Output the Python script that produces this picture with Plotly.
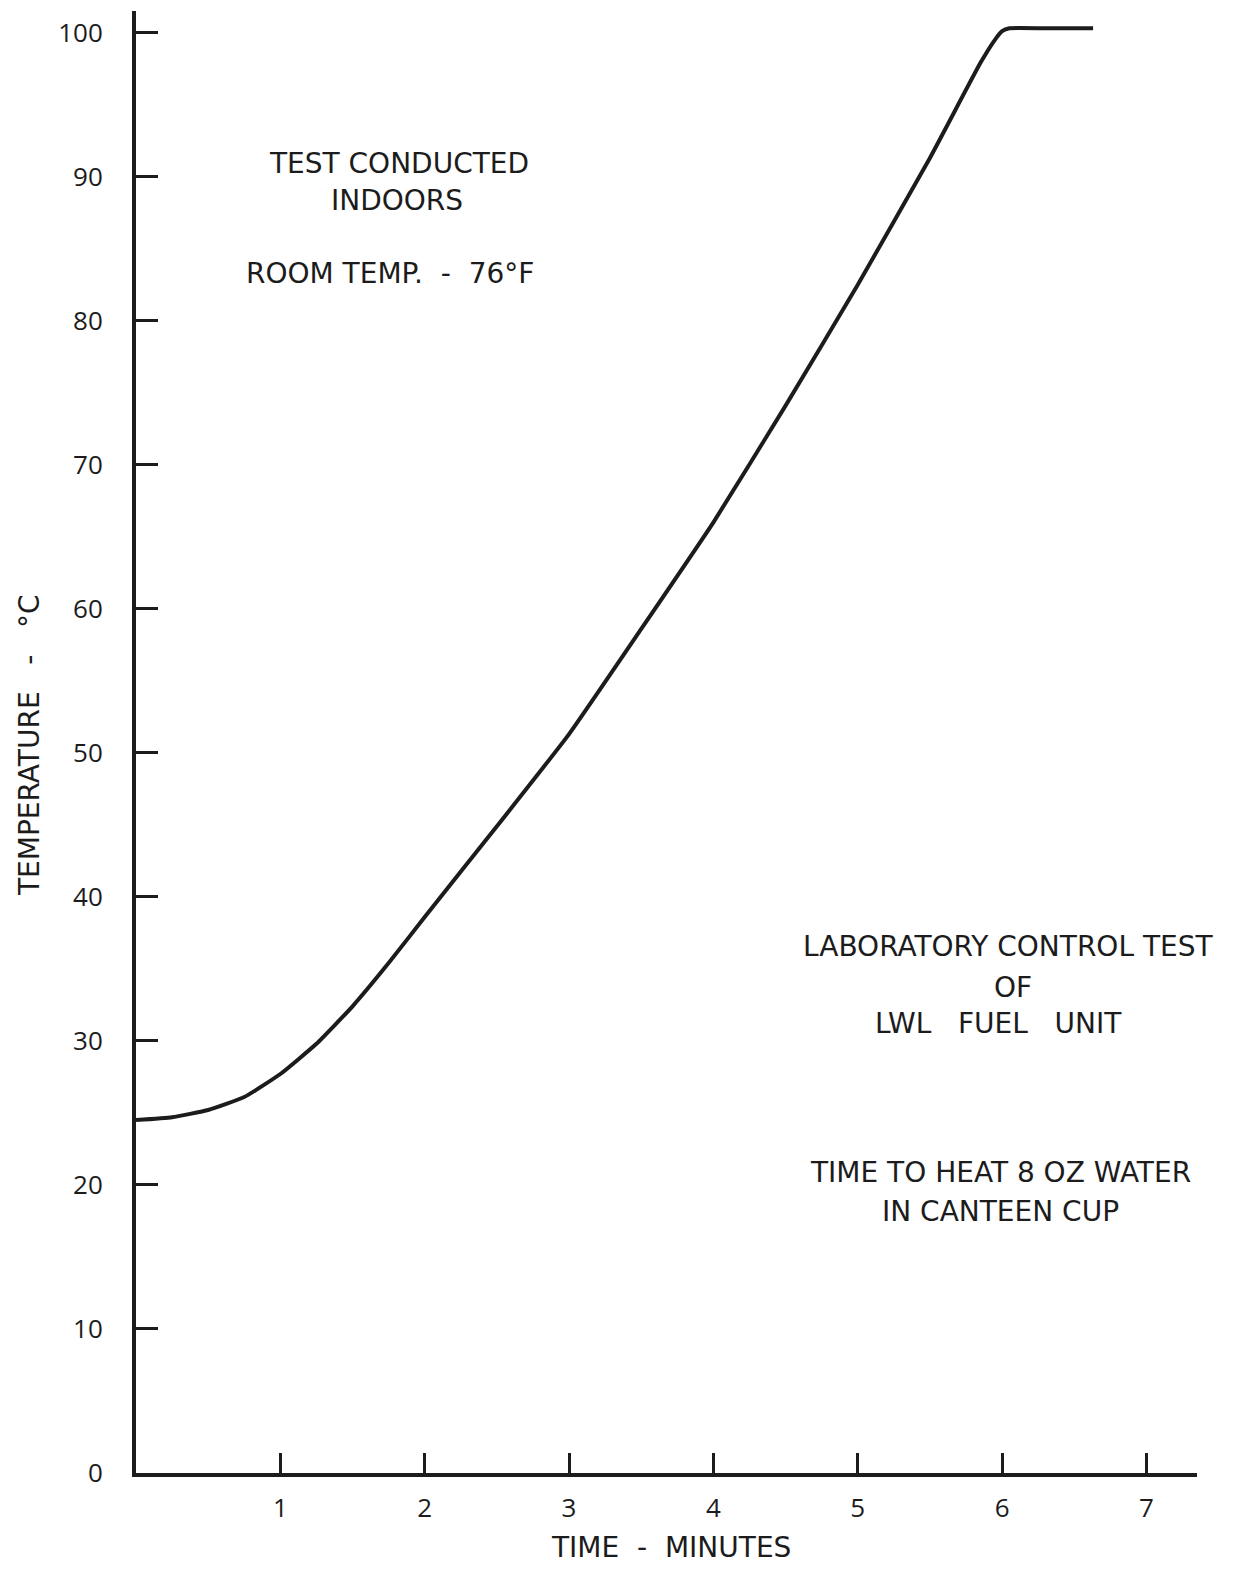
import plotly.graph_objects as go

time_min = [0, 0.25, 0.5, 0.75, 1.0, 1.25, 1.5, 1.75, 2.0, 2.5, 3.0, 3.5, 4.0, 4.5, 5.0, 5.5, 5.85, 5.95, 6.0, 6.05, 6.3, 6.63]
temp_c = [24.5, 24.7, 25.2, 26.1, 27.7, 29.8, 32.4, 35.4, 38.6, 44.9, 51.3, 58.6, 66.0, 74.1, 82.5, 91.3, 97.9, 99.5, 100.1, 100.3, 100.3, 100.3]

x_ticks = [1, 2, 3, 4, 5, 6, 7]
y_ticks = [0, 10, 20, 30, 40, 50, 60, 70, 80, 90, 100]

W, H = 1237, 1569
L, T, PW, PH = 136, 11, 1061, 1462
NUM_FONT = "Open Sans"
TXT_FONT = "DejaVu Sans"
INK = "#1c1c1c"

def px(x):
    return (x - L) / PW

def py(y):
    return (T + PH - y) / PH

fig = go.Figure()
fig.add_trace(go.Scatter(
    x=time_min, y=temp_c, mode="lines",
    line=dict(color=INK, width=4, shape="spline", smoothing=0.4),
    showlegend=False, hoverinfo="skip",
))

notes = [
    ("TEST CONDUCTED", 399, 163),
    ("INDOORS", 397, 200),
    ("ROOM TEMP.  -  76°F", 390, 273),
    ("LABORATORY CONTROL TEST", 1008, 946),
    ("OF", 1013, 987),
    ("LWL   FUEL   UNIT", 998, 1023),
    ("TIME TO HEAT 8 OZ WATER", 1000, 1172),
    ("IN CANTEEN CUP", 1000, 1211),
    ("TIME  -  MINUTES", 671, 1547),
]
for txt, x, y in notes:
    fig.add_annotation(text=txt, x=px(x), y=py(y), xref="paper", yref="paper",
                       showarrow=False, xanchor="center", yanchor="middle",
                       font=dict(family=TXT_FONT, size=28, color=INK))

fig.add_annotation(text="TEMPERATURE   -   °C", x=px(30), y=py(745), xref="paper", yref="paper",
                   showarrow=False, xanchor="center", yanchor="middle", textangle=-90,
                   font=dict(family=TXT_FONT, size=28, color=INK))

fig.update_layout(
    width=W, height=H,
    margin=dict(l=L, r=W - L - PW, t=T, b=H - T - PH),
    paper_bgcolor="white", plot_bgcolor="white",
    xaxis=dict(range=[0, 7.35], tickvals=x_ticks, ticktext=[str(v) for v in x_ticks],
               ticks="inside", ticklen=20, tickwidth=3, tickcolor=INK,
               showline=True, linewidth=4, linecolor=INK, showgrid=False, zeroline=False,
               ticklabelstandoff=9,
               tickfont=dict(family=NUM_FONT, size=26, color=INK)),
    yaxis=dict(range=[0, 101.5], tickvals=y_ticks, ticktext=[str(v) for v in y_ticks],
               ticks="inside", ticklen=22, tickwidth=3, tickcolor=INK,
               showline=True, linewidth=4, linecolor=INK, showgrid=False, zeroline=False,
               ticklabelstandoff=24,
               tickfont=dict(family=NUM_FONT, size=26, color=INK)),
)

fig.write_html("out.html")
